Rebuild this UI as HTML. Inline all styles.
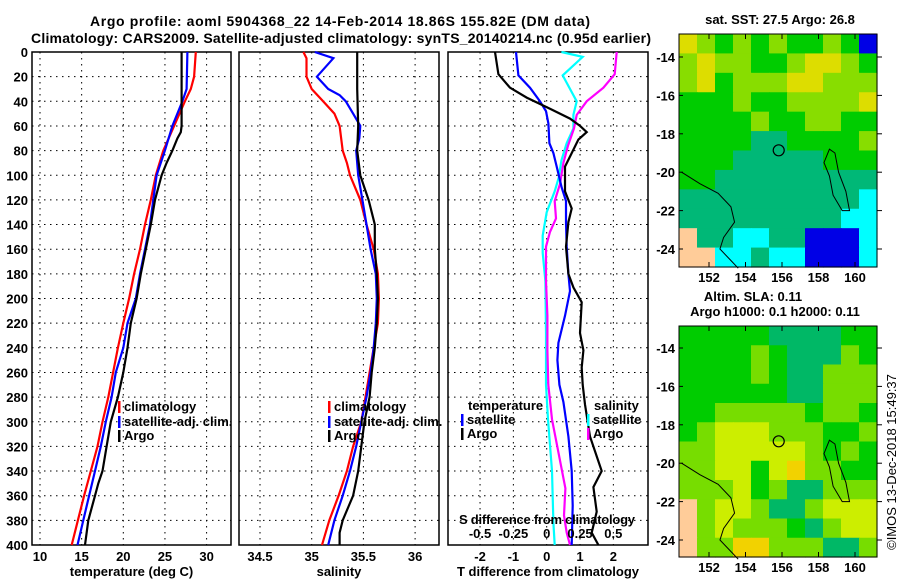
<!DOCTYPE html>
<html><head><meta charset="utf-8"><style>
body{margin:0;background:#fff;}
svg{display:block;font-family:"Liberation Sans",sans-serif;font-weight:bold;}
</style></head><body>
<svg id="c" width="900" height="580" viewBox="0 0 900 580">
<rect width="900" height="580" fill="#fff"/>
<text x="340" y="26" font-size="14" text-anchor="middle" textLength="500">Argo profile: aoml 5904368_22 14-Feb-2014 18.86S 155.82E (DM data)</text>
<text x="341" y="43" font-size="14" text-anchor="middle" textLength="620">Climatology: CARS2009. Satellite-adjusted climatology: synTS_20140214.nc (0.95d earlier)</text>
<g id="plots"></g>
<g id="maps"></g>
</svg>
<script>
// ---- data (depth in m) ----
const tempClimDepth=[0,20,30,40,60,80,100,120,140,160,180,200,220,240,280,300,320,340,360,380,400];
const tempClim=[28.7,28.5,28.1,27.4,26.1,24.8,23.9,23.3,22.6,22.0,21.3,20.7,20.0,19.35,18.2,17.5,16.9,16.1,15.3,14.55,13.8];
const tempSatDepth=[0,30,40,60,80,100,120,140,160,180,200,220,240,260,280,300,320,340,360,380,400];
const tempSat=[27.7,27.6,27.1,25.9,25.0,24.0,23.6,23.2,22.6,22.0,21.5,20.5,20.0,19.1,18.6,17.9,17.3,16.6,15.9,15.2,14.5];
const tempArgoDepth=[0,30,60,65,70,80,90,100,120,140,160,180,200,220,240,260,280,300,320,340,350,360,380,400];
const tempArgo=[27.0,27.0,27.0,26.9,26.5,25.9,25.2,24.6,23.8,23.3,22.7,22.1,21.6,20.9,20.5,20.0,19.35,18.5,18.0,17.5,17.0,16.6,15.8,15.4];

const salClimDepth=[0,5,20,30,40,50,60,80,90,100,120,140,160,180,200,220,240,260,280,300,320,340,360,380,400];
const salClim=[34.92,34.95,34.95,35.0,35.11,35.22,35.27,35.30,35.34,35.37,35.47,35.53,35.60,35.64,35.65,35.64,35.60,35.56,35.52,35.48,35.40,35.34,35.26,35.17,35.10];
const salSatDepth=[0,5,20,30,35,40,50,60,70,80,100,120,140,160,180,200,220,240,260,280,300,320,340,360,380,400];
const salSat=[35.03,35.21,35.05,35.16,35.27,35.33,35.40,35.47,35.46,35.43,35.45,35.49,35.53,35.57,35.62,35.63,35.62,35.60,35.57,35.53,35.48,35.43,35.37,35.30,35.22,35.16];
const salArgoDepth=[0,30,60,80,100,110,120,130,140,160,180,200,220,240,260,280,300,320,340,360,370,380,390,400];
const salArgo=[35.44,35.44,35.45,35.44,35.47,35.51,35.55,35.58,35.61,35.61,35.63,35.64,35.63,35.61,35.58,35.56,35.51,35.48,35.45,35.40,35.35,35.30,35.27,35.27];

const dTSatDepth=[0,19,29,40,48,58,74,82,93,110,121,138,158,180,194,214,236,250,270,284,312,340,368,400];
const dTSat=[-0.92,-0.85,-0.5,-0.2,-0.02,0.05,0.08,0.2,0.3,0.45,0.58,0.58,0.6,0.65,0.7,0.55,0.35,0.32,0.38,0.5,0.65,0.75,0.78,0.75];
const dTArgoDepth=[0,18,29,37,46,54,60,65,71,82,93,113,127,138,158,180,191,203,228,242,256,270,286,312,340,353,373,390,400];
const dTArgo=[-1.55,-1.45,-1.1,-0.6,0.1,0.7,1.0,1.2,0.95,0.75,0.55,0.55,0.75,0.65,0.58,0.65,0.8,1.05,1.0,1.1,1.05,1.08,1.15,1.3,1.65,1.4,1.5,1.35,1.55];
const dSSatDepth=[0,4,19,40,51,62,74,88,102,113,130,149,163,186,228,270,298,340,382,400];
const dSSat=[0.11,0.27,0.12,0.225,0.2,0.2,0.15,0.11,0.09,0.06,0.0,-0.03,-0.03,-0.01,-0.005,-0.005,0.01,0.04,0.05,0.06];
const dSArgoDepth=[0,18,29,40,51,62,76,90,107,121,135,146,158,186,214,242,270,298,326,354,376,390,400];
const dSArgo=[0.525,0.51,0.425,0.3,0.225,0.205,0.16,0.125,0.1,0.06,0.07,0.025,-0.005,-0.005,0.005,0.005,0.012,0.04,0.09,0.14,0.13,0.15,0.175];

const depthTicks=[0,20,40,60,80,100,120,140,160,180,200,220,240,260,280,300,320,340,360,380,400];
const tempTicks=[10,15,20,25,30];
const salTicks=[34.5,35,35.5,36];
const dTTicks=[-2,-1,0,1,2];
const dSTicks=[-0.5,-0.25,0,0.25,0.5];
const dSTickLabels=["-0.5","-0.25","0","0.25","0.5"];

// map colour grids (1 degree rows from -13 to -25, columns 150.5..161.3)
const sstGrid=["ylglglgglgb","lyllgglyylg","lyglllyylll","ggglgglllly","gggglggllgg","ggggGGggggl","gggGGGGGggg","ggGGGGGGGGG","GGGGGGGGGGc","GGGGGGGGGcc","LGGccGGbbbc","LLccGccbbbc"];
const slaGrid=["gggggGGGGgg","gggglgGGGlg","gggglgGGlll","ggggggGGlll","gglllllgllg","glyyylllggl","llyyyyylglg","llyygyYllgg","lllyglGGlll","LlyylGGlyyy","LlylllgGlyy","LllYYlllGGl"];
const sstColors={y:"#dddd00",l:"#88dd00",g:"#00cc00",G:"#00b877",c:"#00ffff",b:"#0000e6",L:"#ffcc99"};
const slaColors={y:"#ccee00",Y:"#f2d200",l:"#77dd00",g:"#00cc00",G:"#00b866",L:"#ffcc99"};

const NS="http://www.w3.org/2000/svg";
function mk(tag,attrs,parent){const e=document.createElementNS(NS,tag);for(const k in attrs)e.setAttribute(k,attrs[k]);parent.appendChild(e);return e;}
const plots=document.getElementById('plots');
const Y0=52,YS=1.2325;
function yD(d){return Y0+d*YS;}

function panel(name,x0,x1,xs,ticks,labels,xlabel){
  const g=mk('g',{},plots);
  
  
  depthTicks.forEach(d=>{if(d>0&&d<400){const l=mk('line',{x1:x0,x2:x1,y1:yD(d),y2:yD(d),stroke:'#000','stroke-width':1,'stroke-dasharray':'1.5,4.5'},g);}});
  ticks.forEach((t,i)=>{const x=xs(t);const l=mk('line',{x1:x,x2:x,y1:Y0,y2:yD(400),stroke:'#000','stroke-width':1,'stroke-dasharray':'1.5,4.5'},g);
    if(labels){const tx=mk('text',{x:x,y:561,'font-size':13,'text-anchor':'middle'},g);tx.textContent=labels[i];}});
  const r=mk('rect',{x:x0,y:Y0,width:x1-x0,height:yD(400)-Y0,fill:'none',stroke:'#000','stroke-width':1.5},g);
  
  const xl=mk('text',{x:(x0+x1)/2,y:576,'font-size':13,'text-anchor':'middle'},g);xl.textContent=xlabel;
  
  return g;
}
function line(g,xs,depths,vals,color,name){
  const pts=depths.map((d,i)=>xs(vals[i]).toFixed(1)+','+yD(d).toFixed(1)).join(' ');
  const p=mk('polyline',{points:pts,fill:'none',stroke:color,'stroke-width':2.2},g);
  
}
function legend(g,x,y,color,label,name){
  const b=mk('rect',{x:x,y:y-10,width:2.5,height:12,fill:color},g);
  
  const t=mk('text',{x:x+6,y:y,'font-size':13},g);t.textContent=label;
  
}
depthTicks.forEach(d=>{const t=mk('text',{x:28,y:yD(d)+5,'font-size':13,'text-anchor':'end'},plots);t.textContent=d;
  });

const xT=t=>40+(t-10)*8.33;
const g1=panel('temperature',32,231,xT,tempTicks,tempTicks.map(String),'temperature (deg C)');
line(g1,xT,tempClimDepth,tempClim,'#ff0000','temp-climatology-line');
line(g1,xT,tempSatDepth,tempSat,'#0000ff','temp-satellite-line');
line(g1,xT,tempArgoDepth,tempArgo,'#000000','temp-argo-line');
legend(g1,118,411,'#ff0000','climatology','legend-climatology');
legend(g1,118,426,'#0000ff','satellite-adj. clim.','legend-satellite-adj');
legend(g1,118,440,'#000000','Argo','legend-argo');

const xS=s=>311.7+(s-35)*103.4;
const g2=panel('salinity',239,439,xS,salTicks,salTicks.map(String),'salinity');
line(g2,xS,salClimDepth,salClim,'#ff0000','sal-climatology-line');
line(g2,xS,salSatDepth,salSat,'#0000ff','sal-satellite-line');
line(g2,xS,salArgoDepth,salArgo,'#000000','sal-argo-line');
legend(g2,328,411,'#ff0000','climatology','legend-climatology');
legend(g2,328,426,'#0000ff','satellite-adj. clim.','legend-satellite-adj');
legend(g2,328,440,'#000000','Argo','legend-argo');

const xDT=t=>546.7+t*33.33;
const xDS=s=>546.7+s*133.3;
const g3=panel('difference',448,648,xDT,dTTicks,dTTicks.map(String),'T difference from climatology');
line(g3,xDS,dSSatDepth,dSSat,'#00ffff','sal-diff-satellite-line');
line(g3,xDS,dSArgoDepth,dSArgo,'#ff00ff','sal-diff-argo-line');
line(g3,xDT,dTSatDepth,dTSat,'#0000ff','temp-diff-satellite-line');
line(g3,xDT,dTArgoDepth,dTArgo,'#000000','temp-diff-argo-line');
{const t=mk('text',{x:468,y:410,'font-size':13},g3);t.textContent='temperature';}
{const t=mk('text',{x:594,y:410,'font-size':13},g3);t.textContent='salinity';}
legend(g3,461,424,'#0000ff','satellite','legend-temp-satellite');
legend(g3,461,438,'#000000','Argo','legend-temp-argo');
legend(g3,587,424,'#00ffff','satellite','legend-sal-satellite');
legend(g3,587,438,'#ff00ff','Argo','legend-sal-argo');
{const t=mk('text',{x:459,y:524,'font-size':13,textLength:176},g3);t.textContent='S difference from climatology';}
dSTicks.forEach((s,i)=>{const t=mk('text',{x:xDS(s),y:538,'font-size':13,'text-anchor':'middle'},g3);t.textContent=dSTickLabels[i];
  });

// ---- maps ----
const maps=document.getElementById('maps');
const lonTicks=[152,154,156,158,160];
const latTicks=[-14,-16,-18,-20,-22,-24];
function drawMap(name,top,bottom,lat14,lat24,grid,colors){
  const g=mk('g',{},maps);
  
  
  const L=679,R=877;
  const xl=lon=>709+(lon-152)*18.25;
  const ppd=(lat24-lat14)/10;
  const yl=lat=>lat14+(-14-lat)*ppd;
  const rows=grid.length,cols=grid[0].length;
  const cw=(R-L)/cols,ch=(bottom-top)/rows;
  grid.forEach((row,r)=>{for(let c=0;c<cols;c++){const col=colors[row[c]]||colors.g;const cell=mk('rect',{x:L+c*cw,y:top+r*ch,width:cw+0.6,height:ch+0.6,fill:col},g);
    }});
  const cst=[[150.5,-20],[151.5,-20.6],[152.5,-21.1],[153.2,-21.8],[153.4,-22.6],[152.8,-23.4],[152.6,-24.0],[153.2,-24.6],[153.6,-25]];
  const p=mk('polyline',{points:cst.map(a=>xl(a[0])+','+yl(a[1])).join(' '),fill:'none',stroke:'#000','stroke-width':1},g);
  
  const reef=[[158.6,-18.8],[158.9,-19.0],[159.1,-20.0],[159.5,-21.0],[159.7,-22.0],[159.3,-22.0],[158.8,-21.2],[158.6,-20.2],[158.3,-19.5]];
  const q=mk('polygon',{points:reef.map(a=>xl(a[0])+','+yl(a[1])).join(' '),fill:'none',stroke:'#000','stroke-width':1},g);
  
  const ci=mk('circle',{cx:xl(155.82),cy:yl(-18.86),r:5.5,fill:'none',stroke:'#000','stroke-width':1.2},g);
  
  const fr=mk('rect',{x:L,y:top,width:R-L,height:bottom-top,fill:'none',stroke:'#000','stroke-width':1},g);
  
  lonTicks.forEach(lon=>{const x=xl(lon);mk('line',{x1:x,x2:x,y1:top,y2:top+5,stroke:'#000'},g);mk('line',{x1:x,x2:x,y1:bottom,y2:bottom-5,stroke:'#000'},g);
    const t=mk('text',{x:x,y:bottom+15,'font-size':13,'text-anchor':'middle'},g);t.textContent=lon;});
  latTicks.forEach(lat=>{const y=yl(lat);mk('line',{x1:R,x2:R+5,y1:y,y2:y,stroke:'#000'},g);mk('line',{x1:L,x2:L+4,y1:y,y2:y,stroke:'#000'},g);
    const t=mk('text',{x:675,y:y+5,'font-size':13,'text-anchor':'end'},g);t.textContent=lat;});
}
drawMap('sst-map',34,267,57,249,sstGrid,sstColors);
drawMap('sla-map',326,557,348,540,slaGrid,slaColors);
{const t=mk('text',{x:780,y:24,'font-size':13,'text-anchor':'middle'},maps);t.textContent='sat. SST: 27.5 Argo: 26.8';}
{const t=mk('text',{x:753,y:301,'font-size':13,'text-anchor':'middle'},maps);t.textContent='Altim. SLA: 0.11';}
{const t=mk('text',{x:775,y:316,'font-size':13,'text-anchor':'middle'},maps);t.textContent='Argo h1000: 0.1 h2000: 0.11';}
{const t=mk('text',{x:0,y:0,'font-size':13,'text-anchor':'middle','font-weight':'normal',transform:'translate(896,462) rotate(-90)'},maps);t.textContent='©IMOS 13-Dec-2018 15:49:37';}
</script>
</body></html>
